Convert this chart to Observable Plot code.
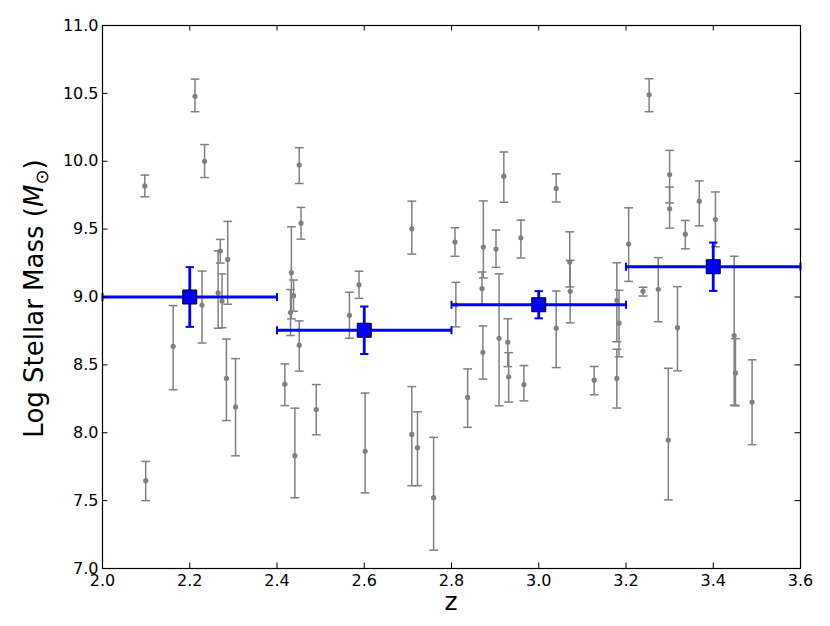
<!DOCTYPE html>
<html><head><meta charset="utf-8">
<script src="https://cdn.jsdelivr.net/npm/d3@7"></script>
<script src="https://cdn.jsdelivr.net/npm/@observablehq/plot@0.6"></script>
<style>html,body{margin:0;padding:0;background:#fff;} #chart{width:830px;height:626px;}</style>
</head><body><div id="chart"></div>
<script>
// Individual galaxies: redshift, log stellar mass, lower / upper errors
const galZ = [2.097, 2.099, 2.162, 2.212, 2.234, 2.228, 2.265, 2.270, 2.274, 2.287, 2.284, 2.305,
  2.418, 2.433, 2.431, 2.438, 2.441, 2.451, 2.455, 2.451, 2.490, 2.566, 2.588, 2.602,
  2.709, 2.709, 2.722, 2.759, 2.808, 2.810, 2.837, 2.873, 2.870, 2.872, 2.902, 2.909,
  2.920, 2.929, 2.931, 2.959, 2.966, 3.040, 3.040, 3.071, 3.072, 3.127, 3.179, 3.184,
  3.179, 3.206, 3.239, 3.253, 3.274, 3.300, 3.300, 3.297, 3.318, 3.336, 3.368, 3.405,
  3.448, 3.451, 3.489];
const galMass = [9.818, 7.647, 8.637, 10.478, 10.0, 8.941, 9.03, 9.338, 8.97, 9.277, 8.40, 8.19,
  8.358, 9.179, 8.885, 9.01, 7.831, 9.973, 9.544, 8.645, 8.171, 8.865, 9.09, 7.863,
  9.502, 7.988, 7.89, 7.522, 9.405, 8.943, 8.26, 9.368, 9.061, 8.593, 9.353, 8.696,
  9.89, 8.667, 8.412, 9.436, 8.355, 9.80, 8.77, 9.257, 9.042, 8.387, 8.976, 8.807,
  8.40, 9.39, 9.042, 10.49, 9.057, 9.902, 9.65, 7.946, 8.774, 9.463, 9.706, 9.571,
  8.716, 8.441, 8.226];
const galErrLow = [0.08, 0.147, 0.32, 0.113, 0.12, 0.28, 0.26, 0.088, 0.196, 0.33, 0.31, 0.36,
  0.158, 0.34, 0.169, 0.115, 0.31, 0.137, 0.118, 0.191, 0.186, 0.169, 0.10, 0.306,
  0.186, 0.378, 0.28, 0.387, 0.105, 0.163, 0.22, 0.228, 0.12, 0.198, 0.135, 0.497,
  0.192, 0.18, 0.186, 0.149, 0.12, 0.10, 0.29, 0.183, 0.232, 0.107, 0.306, 0.248,
  0.218, 0.275, 0.035, 0.125, 0.239, 0.209, 0.143, 0.441, 0.318, 0.108, 0.182, 0.201,
  0.512, 0.243, 0.314];
const galErrHigh = [0.08, 0.142, 0.30, 0.127, 0.123, 0.25, 0.31, 0.086, 0.20, 0.28, 0.29, 0.356,
  0.149, 0.338, 0.17, 0.115, 0.35, 0.127, 0.116, 0.179, 0.184, 0.17, 0.10, 0.429,
  0.204, 0.352, 0.264, 0.444, 0.105, 0.165, 0.21, 0.34, 0.123, 0.194, 0.14, 0.474,
  0.178, 0.173, 0.178, 0.13, 0.14, 0.107, 0.274, 0.223, 0.228, 0.101, 0.276, 0.243,
  0.215, 0.267, 0.03, 0.118, 0.233, 0.178, 0.16, 0.529, 0.302, 0.101, 0.149, 0.203,
  0.584, 0.252, 0.311];

// Binned averages
const binZ = [2.2, 2.6, 3.0, 3.4];
const binHalfWidth = [0.2, 0.2, 0.2, 0.2];
const binMass = [9.0, 8.755, 8.943, 9.223];
const binErr = [0.22, 0.175, 0.1, 0.178];

const xTicks = [2.0, 2.2, 2.4, 2.6, 2.8, 3.0, 3.2, 3.4, 3.6];
const yTicks = [7.0, 7.5, 8.0, 8.5, 9.0, 9.5, 10.0, 10.5, 11.0];

const galaxies = galZ.map((z, i) => ({z, m: galMass[i], lo: galMass[i] - galErrLow[i], hi: galMass[i] + galErrHigh[i]}));
const bins = binZ.map((z, i) => ({z, w: binHalfWidth[i], m: binMass[i], e: binErr[i]}));

const W = 830, H = 626, mL = 102, mR = 30, mT = 25, mB = 58;
const plotW = W - mL - mR, plotH = H - mT - mB;
const tickLen = 5.5;

const hCap = {draw(ctx, size) { const w = Math.sqrt(size / Math.PI); ctx.moveTo(-w, 0); ctx.lineTo(w, 0); }};
const vCap = {draw(ctx, size) { const w = Math.sqrt(size / Math.PI); ctx.moveTo(0, -w); ctx.lineTo(0, w); }};

const gray = "#808080";
const blue = "#0000ff";

const svg = Plot.plot({
  width: W, height: H,
  marginLeft: mL, marginRight: mR, marginTop: mT, marginBottom: mB,
  style: {fontFamily: "DejaVu Sans", background: "#fff", color: "#000"},
  x: {domain: [2.0, 3.6]},
  y: {domain: [7.0, 11.0]},
  marks: [
    // gray galaxies
    Plot.ruleX(galaxies, {x: "z", y1: "lo", y2: "hi", stroke: gray, strokeWidth: 1.5}),
    Plot.dot(galaxies, {x: "z", y: "hi", symbol: hCap, r: 4.4, stroke: gray, strokeWidth: 1.5, fill: "none"}),
    Plot.dot(galaxies, {x: "z", y: "lo", symbol: hCap, r: 4.4, stroke: gray, strokeWidth: 1.5, fill: "none"}),
    Plot.dot(galaxies, {x: "z", y: "m", r: 2.6, fill: gray, stroke: "none"}),
    // binned
    Plot.ruleY(bins, {y: "m", x1: d => d.z - d.w, x2: d => d.z + d.w, stroke: blue, strokeWidth: 2.8}),
    Plot.ruleX(bins, {x: "z", y1: d => d.m - d.e, y2: d => d.m + d.e, stroke: blue, strokeWidth: 2.8}),
    Plot.dot(bins, {x: d => d.z - d.w, y: "m", symbol: vCap, r: 4, stroke: blue, strokeWidth: 2, fill: "none"}),
    Plot.dot(bins, {x: d => d.z + d.w, y: "m", symbol: vCap, r: 4, stroke: blue, strokeWidth: 2, fill: "none"}),
    Plot.dot(bins, {x: "z", y: d => d.m + d.e, symbol: hCap, r: 4.2, stroke: blue, strokeWidth: 2, fill: "none"}),
    Plot.dot(bins, {x: "z", y: d => d.m - d.e, symbol: hCap, r: 4.2, stroke: blue, strokeWidth: 2, fill: "none"}),
    Plot.dot(bins, {x: "z", y: "m", symbol: "square", r: 7.9, fill: blue, stroke: "#000", strokeWidth: 1}),
    // inward ticks on all four sides
    Plot.tickX(xTicks, {x: d => d, insetTop: plotH - tickLen, stroke: "#000", strokeWidth: 1}),
    Plot.tickX(xTicks, {x: d => d, insetBottom: plotH - tickLen, stroke: "#000", strokeWidth: 1}),
    Plot.tickY(yTicks, {y: d => d, insetRight: plotW - tickLen, stroke: "#000", strokeWidth: 1}),
    Plot.tickY(yTicks, {y: d => d, insetLeft: plotW - tickLen, stroke: "#000", strokeWidth: 1}),
    Plot.frame({stroke: "#000", strokeWidth: 1.2}),
    Plot.axisX({ticks: xTicks, tickFormat: d3.format(".1f"), tickSize: 0, tickPadding: 6, fontSize: 16, label: null}),
    Plot.axisY({ticks: yTicks, tickFormat: d3.format(".1f"), tickSize: 0, tickPadding: 4, fontSize: 16, label: null})
  ]
});

const s = d3.select(svg);
// y-axis label
const yl = s.append("text")
  .attr("transform", `translate(43,${mT + plotH / 2 + 2}) rotate(-90)`)
  .attr("text-anchor", "middle")
  .attr("font-family", "DejaVu Sans")
  .attr("font-size", 26)
  .attr("fill", "#000");
yl.append("tspan").text("Log Stellar Mass (");
yl.append("tspan").attr("font-style", "italic").text("M");
yl.append("tspan").attr("font-size", 18).attr("dy", 5).text("\u2299");
yl.append("tspan").attr("dy", -5).text(")");
// x-axis label
s.append("text")
  .attr("x", mL + plotW / 2).attr("y", 610)
  .attr("text-anchor", "middle")
  .attr("font-family", "DejaVu Sans")
  .attr("font-size", 25)
  .attr("fill", "#000")
  .text("z");

document.getElementById("chart").appendChild(svg);
</script>
</body></html>
